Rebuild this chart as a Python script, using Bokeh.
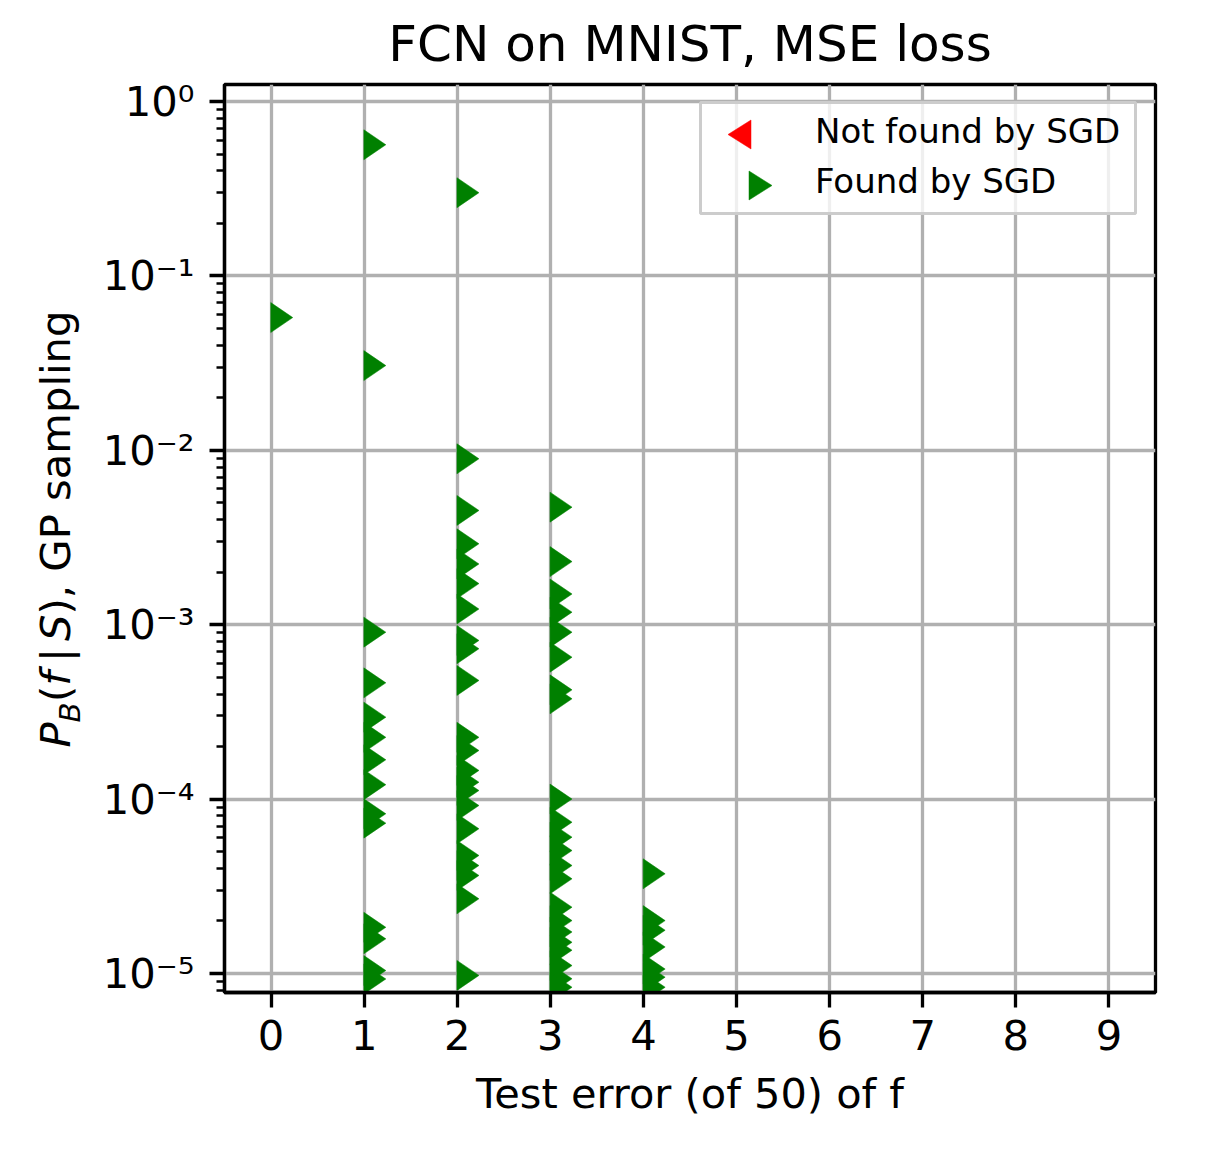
import numpy as np
from bokeh.plotting import figure
from bokeh.layouts import row
from bokeh.models import (Range1d, FixedTicker, Legend, LegendItem,
                          CustomJSTickFormatter)
from bokeh.core.properties import value
from bokeh.embed import file_html
from bokeh.resources import INLINE

# ---------------- data ----------------
title_text = "FCN on MNIST, MSE loss"
x_label = "Test error (of 50) of f"
series_names = ["Not found by SGD", "Found by SGD"]
x_ticks = [0, 1, 2, 3, 4, 5, 6, 7, 8, 9]
y_ticks = [1e-5, 1e-4, 1e-3, 1e-2, 1e-1, 1e0]

# functions not found by SGD (none visible)
notfound_error = []
notfound_prob = []

# functions found by SGD
err0 = [0]
prob0 = [0.0577]
err1 = [1] * 14
prob1 = [0.565, 0.0306, 9.06e-4, 4.64e-4, 2.95e-4, 2.26e-4, 1.68e-4, 1.21e-4,
         8.24e-5, 7.28e-5, 1.84e-5, 1.58e-5, 1.04e-5, 9.3e-6]
err2 = [2] * 22
prob2 = [0.300, 8.94e-3, 4.52e-3, 2.91e-3, 2.23e-3, 1.72e-3, 1.23e-3, 8.12e-4,
         7.28e-4, 4.79e-4, 2.26e-4, 1.90e-4, 1.46e-4, 1.25e-4, 1.12e-4, 9.19e-5,
         6.76e-5, 4.75e-5, 4.16e-5, 3.65e-5, 2.68e-5, 9.75e-6]
err3 = [3] * 22
prob3 = [4.72e-3, 2.30e-3, 1.50e-3, 1.18e-3, 9.06e-4, 6.51e-4, 4.23e-4, 3.76e-4,
         1.00e-4, 7.37e-5, 6.05e-5, 5.07e-5, 4.16e-5, 3.49e-5, 2.40e-5, 2.01e-5,
         1.73e-5, 1.51e-5, 1.36e-5, 1.11e-5, 9.33e-6, 8.34e-6]
err4 = [4] * 7
prob4 = [3.73e-5, 2.01e-5, 1.77e-5, 1.42e-5, 1.06e-5, 9.53e-6, 8.34e-6]

found_error = err0 + err1 + err2 + err3 + err4
found_prob = prob0 + prob1 + prob2 + prob3 + prob4

# ---------------- style / geometry ----------------
FONT = "DejaVu Sans"
GREEN = "#008000"
RED = "#ff0000"
LW = 3.3
TOTAL_H = 1135
LABEL_W = 96                 # width of the strip holding the y-axis title
FRAME_L, FRAME_T = 224, 84   # frame position on the page
FRAME_W, FRAME_H = 931, 908
X0, X1 = -0.5, 9.5
YLOG0, YLOG1 = -5.109, 0.0975
PX_PER_X = FRAME_W / (X1 - X0)
PX_PER_DECADE = FRAME_H / (YLOG1 - YLOG0)
X_SHIFT = 0.115              # marker offset to the right of its integer error
MARK_HALF_W = 11 / PX_PER_X
MARK_K = 10 ** (15 / PX_PER_DECADE)


def page_x(px):
    return X0 + (px - FRAME_L) / PX_PER_X


def page_y(py):
    return 10 ** (YLOG1 - (py - FRAME_T) / PX_PER_DECADE)


p = figure(frame_width=FRAME_W, frame_height=FRAME_H,
           min_border_left=FRAME_L - LABEL_W, min_border_right=52,
           min_border_top=FRAME_T, min_border_bottom=TOTAL_H - FRAME_T - FRAME_H,
           y_axis_type="log",
           x_range=Range1d(X0, X1),
           y_range=Range1d(10 ** YLOG0, 10 ** YLOG1),
           output_backend="svg", toolbar_location=None,
           title=title_text)

p.background_fill_color = "white"
p.border_fill_color = "white"
p.outline_line_color = "black"
p.outline_line_width = LW
p.outline_line_alpha = 1

# title
p.title.text_font = FONT
p.title.text_font_size = "50px"
p.title.text_font_style = "normal"
p.title.align = "center"
p.title.text_color = "black"
p.title.standoff = 24

# grid
for g in (p.xgrid, p.ygrid):
    g.grid_line_color = "#b0b0b0"
    g.grid_line_width = LW

# x axis
p.xaxis.ticker = FixedTicker(ticks=x_ticks, minor_ticks=[])
p.xaxis.axis_label = x_label
p.xaxis.axis_label_text_font = FONT
p.xaxis.axis_label_text_font_size = "41.5px"
p.xaxis.axis_label_text_font_style = "normal"
p.xaxis.axis_label_text_color = "black"
p.xaxis.axis_label_standoff = 16

# y axis
minor = [m * d for d in [1e-6, 1e-5, 1e-4, 1e-3, 1e-2, 1e-1] for m in range(2, 10)]
p.yaxis.ticker = FixedTicker(ticks=y_ticks, minor_ticks=minor)
p.yaxis.formatter = CustomJSTickFormatter(code="""
const e = Math.round(Math.log10(tick));
const sup = {"-":"\u207b","0":"\u2070","1":"\u00b9","2":"\u00b2","3":"\u00b3",
             "4":"\u2074","5":"\u2075","6":"\u2076","7":"\u2077","8":"\u2078","9":"\u2079"};
return "10" + String(e).split("").map(c => sup[c]).join("");
""")

for ax in (p.xaxis, p.yaxis):
    ax.axis_line_width = LW
    ax.axis_line_color = "black"
    ax.major_tick_line_width = LW
    ax.major_tick_out = 15
    ax.major_tick_in = 0
    ax.minor_tick_line_width = 2.5
    ax.minor_tick_out = 8
    ax.minor_tick_in = 0
    ax.major_label_text_font = FONT
    ax.major_label_text_font_size = "41.7px"
    ax.major_label_text_color = "black"
p.xaxis.major_label_standoff = 12
p.yaxis.major_label_standoff = 15

# ---------------- marks ----------------
xs, ys = [], []
for e, v in zip(found_error, found_prob):
    xc = e + X_SHIFT
    xs.append([xc - MARK_HALF_W, xc - MARK_HALF_W, xc + MARK_HALF_W])
    ys.append([v * MARK_K, v / MARK_K, v])
p.patches(xs=xs, ys=ys, fill_color=GREEN, line_color=GREEN, line_width=0.5)

nxs, nys = [], []
for e, v in zip(notfound_error, notfound_prob):
    xc = e - X_SHIFT
    nxs.append([xc + MARK_HALF_W, xc + MARK_HALF_W, xc - MARK_HALF_W])
    nys.append([v * MARK_K, v / MARK_K, v])
p.patches(xs=nxs, ys=nys, fill_color=RED, line_color=RED, line_width=0.5)

# ---------------- legend ----------------
# legend frame (page pixel box), semi-transparent like matplotlib
LEG_BOX = (700, 1135, 102, 213)   # left, right, top, bottom
p.quad(left=[page_x(LEG_BOX[0])], right=[page_x(LEG_BOX[1])],
       top=[page_y(LEG_BOX[2])], bottom=[page_y(LEG_BOX[3])],
       fill_color="white", fill_alpha=0.8, line_color="#cccccc", line_width=3)

# legend key triangles
LEG_HW, LEG_HH = 11.5, 14.5
leg_red = (739, 134)     # left-pointing
leg_green = (760, 185)   # right-pointing
p.patch(x=[page_x(leg_red[0] - LEG_HW), page_x(leg_red[0] + LEG_HW), page_x(leg_red[0] + LEG_HW)],
        y=[page_y(leg_red[1]), page_y(leg_red[1] - LEG_HH), page_y(leg_red[1] + LEG_HH)],
        fill_color=RED, line_color=RED, line_width=0.5)
p.patch(x=[page_x(leg_green[0] + LEG_HW), page_x(leg_green[0] - LEG_HW), page_x(leg_green[0] - LEG_HW)],
        y=[page_y(leg_green[1]), page_y(leg_green[1] - LEG_HH), page_y(leg_green[1] + LEG_HH)],
        fill_color=GREEN, line_color=GREEN, line_width=0.5)

nan = float("nan")
r_nf = p.scatter(x=[nan], y=[nan], marker="triangle", size=1,
                 fill_alpha=0, line_alpha=0)
r_f = p.scatter(x=[nan], y=[nan], marker="triangle", size=1,
                fill_alpha=0, line_alpha=0)

legend = Legend(items=[LegendItem(label=series_names[0], renderers=[r_nf]),
                       LegendItem(label=series_names[1], renderers=[r_f])],
                location="top_right")
legend.label_text_font = FONT
legend.label_text_font_size = "34px"
legend.label_text_color = "black"
legend.glyph_width = 104
legend.glyph_height = 50
legend.label_height = 50
legend.label_standoff = 2
legend.label_width = 318
legend.padding = 4
legend.spacing = 0
legend.margin = 18
legend.border_line_alpha = 0
legend.background_fill_alpha = 0
p.add_layout(legend)

# ---------------- y axis title strip (math italics) ----------------
lab = figure(frame_width=LABEL_W, frame_height=FRAME_H, x_range=Range1d(0, LABEL_W),
             y_range=Range1d(0, FRAME_H), x_axis_location=None, y_axis_location=None,
             min_border=0, title=None, output_backend="svg", toolbar_location=None)
lab.outline_line_color = None
lab.grid.visible = False
lab.background_fill_color = "white"
lab.border_fill_color = "white"

F = 41.7
YL_X = 73      # page x of the baseline
YL_Y0 = 747    # page y where the title starts (reads upward)
BASE_FIX = 0.42  # rotated-text anchor correction, fraction of font size
pieces = [
    # text, offset along text, size factor, italic, baseline shift
    ("P", 0.0, 1.0, True, 0.0),
    ("B", 25.1, 0.7, True, 8.5),
    ("(", 45.5, 1.0, False, 0.0),
    ("f", 61.8, 1.0, True, 0.0),
    ("|", 85.5, 1.0, False, 0.0),
    ("S", 106.6, 1.0, True, 0.0),
    ("), GP sampling", 133.1, 1.0, False, 0.0),
]
for txt, off, sf, ital, shift in pieces:
    size = F * sf
    lab.text(x=[YL_X + shift - BASE_FIX * size],
             y=[FRAME_T + FRAME_H - (YL_Y0 - off)], text=[txt],
             angle=np.pi / 2, text_align="left", text_baseline="alphabetic",
             text_font=value(FONT), text_font_size=value(f"{size:.1f}px"),
             text_font_style="italic" if ital else "normal", text_color="black")

layout = row(lab, p)
open("out.html", "w").write(file_html(layout, INLINE))
